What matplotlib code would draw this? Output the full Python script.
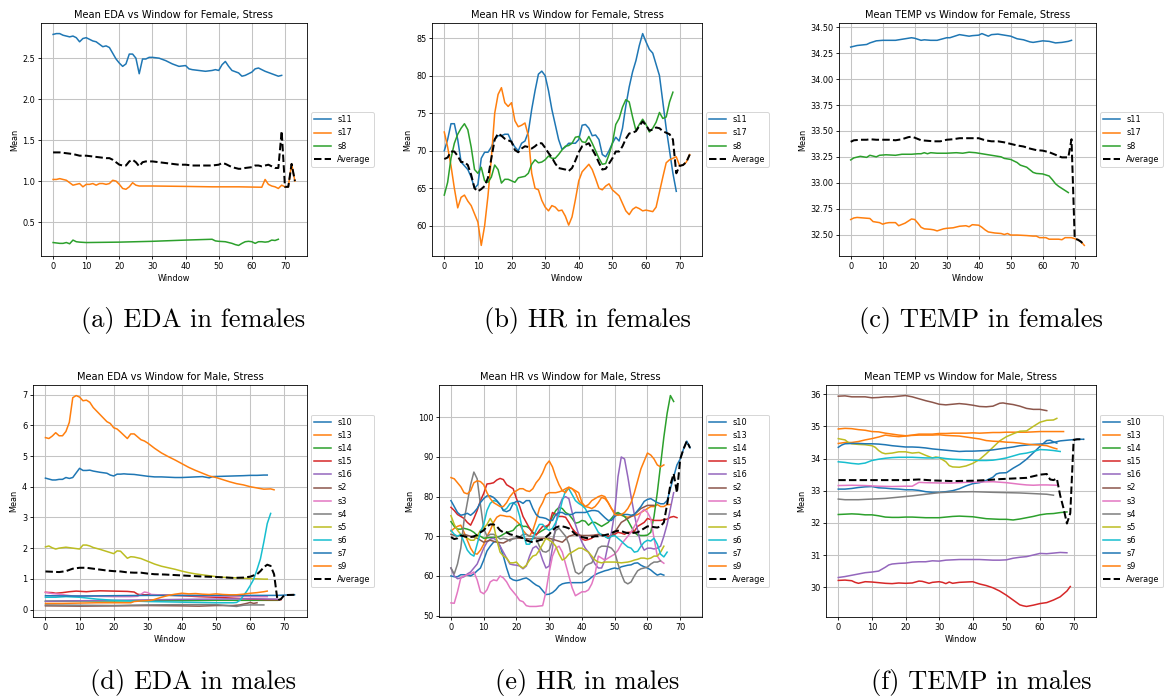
import numpy as np
import matplotlib
matplotlib.use("Agg")
import matplotlib.pyplot as plt

# ---------------------------------------------------------------- data
WINDOW_TICKS = [0, 10, 20, 30, 40, 50, 60, 70]

FEMALE_NAMES = ["s11", "s17", "s8"]
MALE_NAMES = ["s10", "s13", "s14", "s15", "s16", "s2", "s3", "s4", "s5", "s6", "s7", "s9"]

# Female, EDA  (pairs are (window, mean))
F_EDA_S11 = [(0, 2.79), (1, 2.80), (2, 2.80), (3, 2.78), (4, 2.77), (5, 2.76), (6, 2.77), (7, 2.75),
             (8, 2.70), (9, 2.74), (10, 2.75), (11, 2.73), (12, 2.71), (13, 2.70), (14, 2.67), (15, 2.64),
             (16, 2.65), (17, 2.63), (18, 2.56), (19, 2.49), (20, 2.44), (21, 2.40), (22, 2.43), (23, 2.55),
             (24, 2.55), (25, 2.50), (26, 2.31), (27, 2.49), (28, 2.49), (29, 2.51), (30, 2.51), (32, 2.50),
             (34, 2.47), (36, 2.43), (38, 2.40), (40, 2.41), (41, 2.37), (42, 2.36), (44, 2.35), (46, 2.34),
             (48, 2.35), (49, 2.36), (50, 2.35), (51, 2.42), (52, 2.46), (53, 2.40), (54, 2.35), (56, 2.32),
             (57, 2.28), (58, 2.29), (60, 2.33), (61, 2.37), (62, 2.38), (64, 2.34), (66, 2.31), (68, 2.28),
             (69, 2.29)]
F_EDA_S17 = [(0, 1.02), (1, 1.02), (2, 1.03), (3, 1.02), (4, 1.01), (5, 0.98), (6, 0.95), (7, 0.96),
             (8, 0.97), (9, 0.93), (10, 0.96), (11, 0.96), (12, 0.97), (13, 0.95), (14, 0.97), (15, 0.97),
             (16, 0.96), (17, 0.97), (18, 1.01), (19, 1.00), (20, 0.96), (21, 0.91), (22, 0.90), (23, 0.93),
             (24, 0.98), (25, 0.95), (26, 0.94), (30, 0.94), (40, 0.935), (48, 0.93), (56, 0.93), (63, 0.925),
             (64, 1.02), (65, 0.96), (66, 0.94), (67, 0.93), (68, 0.91), (69, 0.95), (70, 0.93), (71, 0.93),
             (72, 1.21), (73, 1.00)]
F_EDA_S8 = [(0, 0.25), (1, 0.245), (2, 0.24), (3, 0.24), (4, 0.25), (5, 0.235), (6, 0.28), (7, 0.26),
            (8, 0.255), (10, 0.25), (20, 0.255), (30, 0.265), (40, 0.28), (48, 0.29), (49, 0.27), (50, 0.265),
            (52, 0.26), (54, 0.24), (55, 0.225), (56, 0.215), (57, 0.24), (58, 0.26), (59, 0.265), (60, 0.26),
            (61, 0.24), (62, 0.26), (63, 0.26), (64, 0.255), (65, 0.26), (66, 0.28), (67, 0.275), (68, 0.29)]
F_EDA_AVG = [(0, 1.35), (2, 1.35), (4, 1.34), (6, 1.33), (8, 1.31), (10, 1.31), (12, 1.30), (14, 1.29),
             (16, 1.28), (17, 1.28), (18, 1.26), (19, 1.23), (20, 1.20), (21, 1.19), (22, 1.19), (23, 1.24),
             (24, 1.26), (25, 1.23), (26, 1.18), (27, 1.23), (28, 1.24), (30, 1.24), (32, 1.23), (34, 1.22),
             (36, 1.21), (38, 1.20), (40, 1.20), (42, 1.19), (44, 1.19), (46, 1.19), (48, 1.19), (50, 1.20),
             (51, 1.22), (52, 1.21), (53, 1.19), (54, 1.17), (56, 1.15), (57, 1.15), (58, 1.16), (60, 1.17),
             (61, 1.19), (62, 1.19), (63, 1.18), (64, 1.19), (65, 1.20), (66, 1.18), (67, 1.16), (68, 1.16),
             (69, 1.61), (70, 0.93), (71, 0.93), (72, 1.21), (73, 1.00)]
F_EDA_YTICKS = [0.5, 1.0, 1.5, 2.0, 2.5]

# Female, HR  (one value per window, starting at window 0)
F_HR_S11 = [70.0, 71.5, 73.6, 73.6, 71.5, 68.5, 68.0, 67.5, 66.5, 65.0,
            65.5, 69.0, 69.8, 69.8, 70.5, 71.5, 72.0, 72.0, 72.2, 72.2,
            71.2, 70.5, 70.0, 71.0, 71.3, 72.5, 75.5, 78.0, 80.2, 80.6,
            80.0, 78.0, 75.5, 73.5, 71.5, 70.2, 70.5, 71.0, 71.0, 71.0,
            71.5, 73.4, 73.5, 73.0, 72.0, 72.1, 71.5, 69.5, 69.2, 70.0,
            71.0, 71.8, 71.3, 73.0, 76.0, 78.5, 80.5, 82.0, 84.0, 85.6,
            84.5, 83.5, 83.0, 81.5, 80.0, 76.5, 73.0, 70.0, 67.0, 64.6]
F_HR_S17 = [72.5, 70.5, 68.0, 65.0, 62.4, 63.8, 64.1, 63.3, 62.7, 61.6,
            60.5, 57.4, 60.0, 64.0, 69.0, 75.0, 77.5, 78.4, 76.4, 75.9,
            76.4, 74.0, 73.2, 73.4, 73.7, 72.0, 67.0, 65.0, 64.8, 63.4,
            62.5, 62.0, 62.7, 62.5, 62.0, 62.1, 61.3, 60.1, 61.2, 63.5,
            66.0, 67.2, 67.7, 68.2, 67.5, 66.3, 65.0, 64.8, 65.3, 65.6,
            64.8, 64.4, 64.0, 63.0, 62.0, 61.5, 62.2, 62.5, 62.3, 62.0,
            62.1, 62.0, 61.9, 62.5, 64.5, 66.5, 68.4, 68.8, 69.0, 69.2,
            68.0, 68.1, 68.5, 69.5]
F_HR_S8 = [64.1, 65.8, 69.0, 71.0, 72.2, 73.0, 73.6, 72.8, 70.5, 67.5,
           67.0, 67.8, 66.0, 65.8, 66.5, 68.1, 67.5, 65.7, 66.2, 66.2,
           66.0, 65.8, 66.4, 66.5, 66.6, 67.0, 68.2, 68.8, 68.4, 68.5,
           68.8, 69.3, 69.0, 69.0, 69.5, 70.1, 70.6, 70.7, 71.0, 71.8,
           71.9, 71.2, 71.1, 71.9, 71.0, 70.0, 69.0, 68.2, 68.3, 69.5,
           71.0, 73.5, 74.3, 75.8, 76.8, 76.5, 74.5, 72.7, 73.5, 74.2,
           73.5, 72.5, 73.0, 73.8, 75.1, 74.3, 74.5, 76.5, 77.8]
F_HR_AVG = [68.9, 69.1, 69.9, 69.9, 69.3, 68.5, 68.5, 68.1, 66.8, 65.0,
            64.6, 64.9, 65.3, 66.4, 69.0, 71.5, 72.3, 72.0, 71.6, 71.4,
            71.2, 70.1, 69.8, 70.3, 70.6, 70.5, 70.3, 70.6, 71.0, 71.0,
            70.4, 69.7, 69.1, 68.3, 67.7, 67.6, 67.5, 67.3, 67.7, 68.7,
            69.8, 70.6, 70.8, 71.0, 70.2, 69.4, 68.4, 67.5, 67.6, 68.3,
            69.0, 69.9, 69.9, 70.6, 71.6, 72.3, 72.4, 72.6, 73.3, 73.9,
            73.4, 72.7, 72.8, 73.1, 73.0, 72.6, 72.4, 72.2, 71.5, 67.0,
            68.0, 68.1, 68.5, 69.5]
F_HR_YTICKS = [60, 65, 70, 75, 80, 85]

# Female, TEMP
F_TEMP_S11 = [(0, 34.31), (2, 34.325), (5, 34.335), (6, 34.35), (8, 34.37), (10, 34.375), (14, 34.375),
              (17, 34.39), (19, 34.40), (20, 34.395), (22, 34.375), (23, 34.38), (25, 34.375), (27, 34.375),
              (30, 34.40), (31, 34.40), (33, 34.42), (34, 34.43), (37, 34.415), (38, 34.42), (40, 34.425),
              (41, 34.44), (43, 34.415), (44, 34.43), (46, 34.435), (48, 34.425), (50, 34.415), (52, 34.39),
              (54, 34.38), (56, 34.36), (57, 34.355), (60, 34.37), (62, 34.365), (64, 34.35), (66, 34.355),
              (67, 34.36), (68, 34.365), (69, 34.375)]
F_TEMP_S17 = [(0, 32.645), (1, 32.66), (2, 32.665), (4, 32.66), (6, 32.655), (7, 32.625), (9, 32.615),
              (10, 32.60), (11, 32.61), (12, 32.615), (14, 32.615), (15, 32.585), (17, 32.61), (19, 32.65),
              (20, 32.645), (21, 32.61), (22, 32.57), (23, 32.555), (25, 32.55), (26, 32.545), (27, 32.535),
              (29, 32.555), (30, 32.56), (32, 32.565), (34, 32.58), (36, 32.585), (37, 32.575), (38, 32.595),
              (40, 32.59), (41, 32.57), (42, 32.545), (43, 32.525), (45, 32.515), (47, 32.51), (48, 32.50),
              (49, 32.51), (50, 32.495), (52, 32.495), (55, 32.49), (57, 32.485), (58, 32.485), (59, 32.47),
              (61, 32.47), (62, 32.455), (65, 32.455), (66, 32.45), (67, 32.47), (69, 32.47), (70, 32.46),
              (71, 32.45), (72, 32.43), (73, 32.395)]
F_TEMP_S8 = [(0, 33.22), (1, 33.24), (3, 33.255), (5, 33.245), (6, 33.265), (8, 33.25), (9, 33.265),
             (11, 33.27), (14, 33.265), (16, 33.275), (19, 33.275), (21, 33.28), (22, 33.28), (23, 33.29),
             (24, 33.28), (25, 33.29), (27, 33.285), (30, 33.285), (33, 33.29), (35, 33.285), (37, 33.295),
             (39, 33.29), (41, 33.28), (43, 33.27), (45, 33.26), (47, 33.25), (48, 33.235), (50, 33.225),
             (52, 33.195), (53, 33.17), (55, 33.15), (57, 33.10), (58, 33.09), (60, 33.085), (61, 33.075),
             (62, 33.065), (63, 33.03), (64, 32.99), (65, 32.965), (66, 32.945), (67, 32.925), (68, 32.905)]
F_TEMP_AVG = [(0, 33.395), (1, 33.41), (3, 33.415), (5, 33.415), (6, 33.42), (8, 33.415), (10, 33.415),
              (12, 33.415), (14, 33.41), (16, 33.42), (18, 33.44), (19, 33.445), (20, 33.435), (22, 33.41),
              (24, 33.405), (26, 33.40), (28, 33.40), (30, 33.415), (32, 33.42), (34, 33.43), (36, 33.43),
              (38, 33.43), (40, 33.43), (42, 33.41), (44, 33.40), (46, 33.40), (48, 33.39), (50, 33.375),
              (52, 33.36), (54, 33.35), (56, 33.33), (58, 33.315), (60, 33.31), (62, 33.295), (64, 33.27),
              (65, 33.255), (66, 33.245), (68, 33.245), (69, 33.42), (70, 32.46), (71, 32.45), (72, 32.43),
              (73, 32.395)]
F_TEMP_YTICKS = [32.5, 32.75, 33.0, 33.25, 33.5, 33.75, 34.0, 34.25, 34.5]

# Male, EDA
M_EDA_S10 = [(0, 4.28), (1, 4.25), (2, 4.22), (3, 4.22), (4, 4.24), (5, 4.24), (6, 4.30), (7, 4.27),
             (8, 4.30), (9, 4.45), (10, 4.60), (11, 4.53), (12, 4.53), (13, 4.54), (14, 4.51), (16, 4.47),
             (18, 4.44), (19, 4.38), (20, 4.35), (21, 4.41), (22, 4.41), (23, 4.42), (24, 4.41), (26, 4.40),
             (28, 4.37), (30, 4.34), (32, 4.32), (34, 4.32), (36, 4.31), (38, 4.30), (40, 4.30), (42, 4.31),
             (44, 4.32), (46, 4.33), (47, 4.31), (48, 4.29), (49, 4.33), (52, 4.34), (55, 4.35), (58, 4.36),
             (60, 4.37), (62, 4.37), (64, 4.38), (65, 4.38)]
M_EDA_S13 = [(0, 5.60), (1, 5.57), (2, 5.65), (3, 5.76), (4, 5.66), (5, 5.66), (6, 5.80), (7, 6.10),
             (8, 6.90), (9, 6.97), (10, 6.92), (11, 6.80), (12, 6.82), (13, 6.75), (14, 6.58), (16, 6.35),
             (18, 6.12), (19, 6.06), (20, 5.92), (21, 5.88), (22, 5.78), (24, 5.57), (25, 5.72), (26, 5.72),
             (28, 5.53), (29, 5.49), (30, 5.42), (32, 5.25), (34, 5.10), (36, 4.98), (38, 4.87), (40, 4.75),
             (42, 4.63), (44, 4.53), (46, 4.44), (48, 4.35), (50, 4.30), (52, 4.23), (54, 4.16), (56, 4.10),
             (58, 4.06), (60, 4.00), (62, 3.96), (64, 3.92), (66, 3.93), (67, 3.90)]
M_EDA_S14 = [(0, 0.27), (10, 0.28), (20, 0.28), (30, 0.29), (40, 0.29), (50, 0.30), (60, 0.30), (68, 0.30)]
M_EDA_S15 = [(0, 0.56), (2, 0.55), (3, 0.53), (5, 0.55), (7, 0.58), (9, 0.60), (12, 0.58), (14, 0.60),
             (16, 0.61), (20, 0.60), (24, 0.59), (26, 0.57), (27, 0.50), (28, 0.48), (30, 0.48), (35, 0.47),
             (40, 0.45), (45, 0.42), (50, 0.40), (55, 0.37), (60, 0.34), (65, 0.32), (69, 0.32)]
M_EDA_S16 = [(0, 0.27), (20, 0.30), (40, 0.33), (60, 0.35), (68, 0.34)]
M_EDA_S2 = [(0, 0.12), (10, 0.11), (20, 0.12), (30, 0.13), (40, 0.12), (45, 0.11), (50, 0.13), (55, 0.13),
            (57, 0.15), (59, 0.20), (60, 0.23), (61, 0.20), (62, 0.22)]
M_EDA_S3 = [(0, 0.56), (2, 0.52), (4, 0.50), (6, 0.47), (8, 0.44), (10, 0.44), (15, 0.43), (20, 0.42),
            (25, 0.42), (27, 0.43), (28, 0.50), (29, 0.57), (30, 0.55), (31, 0.49), (35, 0.47), (40, 0.46),
            (45, 0.45), (50, 0.44), (55, 0.43), (60, 0.42), (65, 0.42)]
M_EDA_S4 = [(0, 0.15), (10, 0.14), (20, 0.13), (30, 0.15), (40, 0.16), (50, 0.16), (56, 0.10), (58, 0.14),
            (60, 0.15), (64, 0.15)]
M_EDA_S5 = [(0, 2.04), (1, 2.07), (2, 2.01), (3, 1.97), (4, 2.00), (6, 2.03), (8, 2.00), (10, 1.97),
            (11, 2.10), (12, 2.10), (13, 2.07), (14, 2.02), (16, 1.96), (18, 1.89), (20, 1.82), (21, 1.91),
            (22, 1.90), (24, 1.67), (25, 1.72), (26, 1.71), (28, 1.66), (30, 1.57), (32, 1.48), (34, 1.41),
            (36, 1.36), (38, 1.31), (40, 1.25), (42, 1.20), (44, 1.16), (46, 1.13), (48, 1.10), (50, 1.07),
            (52, 1.05), (54, 1.04), (56, 1.03), (58, 1.02), (60, 1.01), (62, 1.00), (64, 0.99), (65, 0.99)]
M_EDA_S6 = [(0, 0.40), (3, 0.40), (6, 0.42), (10, 0.40), (15, 0.34), (20, 0.30), (25, 0.28), (30, 0.26),
            (35, 0.25), (40, 0.24), (45, 0.23), (50, 0.22), (55, 0.22), (56, 0.23), (57, 0.30), (58, 0.45),
            (59, 0.60), (60, 0.78), (61, 0.98), (62, 1.30), (63, 1.65), (64, 2.20), (65, 2.80), (66, 3.13)]
M_EDA_S7 = [(0, 0.45), (10, 0.44), (20, 0.45), (30, 0.46), (40, 0.46), (50, 0.46), (60, 0.46), (65, 0.46),
            (68, 0.46), (70, 0.47), (73, 0.48)]
M_EDA_S9 = [(0, 0.20), (5, 0.20), (10, 0.21), (15, 0.22), (20, 0.22), (25, 0.22), (26, 0.26), (28, 0.28),
            (30, 0.29), (31, 0.30), (32, 0.33), (34, 0.40), (36, 0.46), (38, 0.50), (40, 0.53), (42, 0.51),
            (44, 0.52), (46, 0.50), (48, 0.49), (50, 0.51), (52, 0.49), (54, 0.48), (56, 0.48), (58, 0.50),
            (60, 0.53), (62, 0.55), (64, 0.58), (65, 0.60)]
M_EDA_AVG = [(0, 1.24), (2, 1.23), (4, 1.22), (6, 1.25), (8, 1.33), (10, 1.36), (12, 1.36), (14, 1.33),
             (16, 1.30), (18, 1.27), (20, 1.25), (22, 1.24), (24, 1.21), (26, 1.20), (28, 1.20), (30, 1.17),
             (32, 1.15), (35, 1.14), (40, 1.11), (45, 1.08), (50, 1.06), (55, 1.03), (58, 1.04), (60, 1.07),
             (62, 1.15), (63, 1.25), (64, 1.38), (65, 1.46), (66, 1.42), (67, 1.15), (68, 0.30), (69, 0.34),
             (70, 0.47), (73, 0.48)]
M_EDA_YTICKS = [0, 1, 2, 3, 4, 5, 6, 7]

# Male, HR  (one value per window, starting at window 0)
M_HR_S10 = [60.0, 59.8, 59.8, 60.3, 60.3, 60.2, 60.0, 60.5, 61.3, 62.0,
            64.0, 66.3, 67.5, 68.5, 68.8, 67.5, 65.0, 62.0, 59.5, 59.0,
            58.8, 59.0, 59.3, 59.5, 59.0, 58.3, 57.7, 57.3, 56.3, 55.3,
            55.4, 55.8, 56.5, 57.5, 58.0, 58.2, 58.3, 58.3, 58.3, 58.3,
            58.3, 58.5, 59.0, 59.7, 60.3, 60.7, 61.0, 61.3, 61.5, 61.8,
            62.0, 61.8, 62.3, 62.5, 62.7, 62.8, 63.2, 63.3, 62.7, 62.3,
            62.0, 61.5, 60.8, 60.2, 60.5, 60.2]
M_HR_S13 = [71.3, 72.0, 72.5, 72.8, 71.0, 69.0, 67.0, 65.7, 65.5, 66.5,
            68.0, 70.0, 71.5, 73.5, 74.8, 75.3, 75.2, 75.0, 75.0, 74.5,
            73.8, 73.0, 71.5, 70.5, 70.0, 71.5, 74.0, 77.0, 78.5, 80.5,
            81.0, 81.0, 81.0, 81.2, 81.5, 82.0, 82.4, 82.0, 81.0, 79.0,
            78.0, 77.5, 77.3, 77.0, 77.5, 78.5, 79.8, 79.5, 78.5, 77.0,
            76.0, 75.7, 75.3, 75.0, 74.8, 75.0, 75.2, 75.5, 76.0, 76.5,
            77.0, 77.5, 77.5, 78.0, 77.5, 77.5, 78.0, 78.0]
M_HR_S14 = [73.7, 72.5, 71.8, 71.8, 72.0, 71.8, 71.5, 71.0, 70.2, 70.0,
            69.5, 69.6, 69.7, 69.7, 69.8, 70.0, 70.5, 71.0, 71.2, 71.5,
            72.5, 73.0, 72.5, 72.5, 72.0, 71.0, 70.5, 71.0, 71.5, 72.0,
            73.0, 75.0, 76.5, 77.3, 77.0, 76.0, 75.5, 74.5, 73.3, 73.5,
            74.0, 73.8, 72.8, 73.5, 73.5, 73.0, 72.5, 73.0, 73.5, 74.5,
            75.5, 76.0, 75.5, 75.0, 74.0, 72.5, 71.0, 70.3, 70.2, 70.2,
            70.3, 71.0, 75.0, 81.0, 88.0, 95.0, 101.0, 105.5, 104.0]
M_HR_S15 = [77.3, 76.5, 75.5, 75.0, 74.5, 73.5, 72.8, 74.5, 76.5, 79.0,
            80.8, 83.2, 83.3, 83.5, 84.2, 84.6, 84.3, 83.0, 82.5, 82.0,
            79.5, 77.5, 75.0, 73.5, 72.0, 70.8, 70.3, 71.5, 72.5, 72.5,
            73.0, 76.0, 75.5, 75.0, 75.0, 74.8, 73.5, 72.0, 71.0, 70.5,
            69.3, 69.0, 69.2, 69.5, 70.3, 70.5, 70.2, 70.0, 70.0, 70.2,
            70.5, 71.0, 70.8, 70.5, 71.0, 71.0, 71.3, 72.5, 73.0, 73.5,
            74.5, 74.2, 74.0, 74.0, 74.0, 74.2, 74.3, 74.8, 75.0, 74.7]
M_HR_S16 = [62.0, 60.0, 59.3, 59.5, 59.8, 60.5, 61.0, 62.0, 63.0, 65.0,
            67.0, 68.5, 69.3, 69.5, 69.0, 67.5, 66.0, 64.5, 63.0, 62.8,
            62.7, 62.5, 61.8, 62.5, 65.0, 67.0, 67.5, 66.5, 64.0, 62.0,
            62.5, 67.0, 73.0, 77.5, 79.5, 80.0, 79.5, 76.0, 73.0, 70.5,
            68.5, 67.0, 66.0, 64.5, 63.0, 62.0, 62.0, 64.0, 68.0, 71.0,
            76.0, 85.0, 90.0, 89.5, 85.0, 80.0, 75.5, 71.5, 68.0, 66.5,
            67.0, 67.0, 66.8, 67.0, 67.5, 70.0, 73.0, 77.0, 81.0]
M_HR_S2 = [(0, 70.5), (2, 70.0), (4, 70.5), (6, 70.0), (8, 69.5), (10, 68.5), (12, 69.0), (14, 68.5),
           (16, 68.3), (18, 69.2), (20, 69.5), (22, 69.5), (24, 69.3), (26, 69.5), (28, 69.5), (30, 69.5),
           (32, 69.0), (34, 68.5), (36, 70.0), (38, 70.5), (40, 70.2), (42, 70.2), (44, 70.3), (46, 70.5),
           (48, 69.5), (49, 70.0), (50, 71.0), (52, 73.5), (54, 74.5), (56, 75.5), (58, 77.0), (60, 77.8),
           (62, 77.8)]
M_HR_S3 = [53.2, 53.1, 56.0, 59.5, 60.0, 60.3, 60.5, 61.0, 59.0, 56.0,
           55.5, 56.5, 58.5, 59.0, 58.8, 60.0, 59.5, 58.5, 57.0, 56.0,
           55.0, 53.8, 53.5, 52.5, 52.3, 52.3, 52.3, 52.4, 52.5, 56.0,
           61.0, 65.0, 67.0, 67.5, 66.0, 63.0, 60.0, 57.0, 55.0, 55.5,
           56.0, 56.0, 56.5, 58.0, 60.5, 65.0, 64.5, 64.0, 64.5, 65.0,
           65.5, 66.5, 68.0, 69.0, 70.0, 71.0, 72.5, 74.0, 76.0, 76.8,
           76.0, 74.5, 69.5, 65.0, 63.8, 63.2]
M_HR_S4 = [62.0, 60.5, 63.0, 67.0, 74.0, 78.5, 83.0, 86.2, 84.5, 78.0,
           72.0, 70.0, 70.5, 70.5, 70.0, 69.3, 69.5, 69.3, 68.8, 69.5,
           69.5, 69.8, 70.5, 70.5, 70.0, 70.0, 69.5, 67.5, 66.2, 66.0,
           66.5, 69.0, 71.5, 72.0, 71.0, 70.0, 68.0, 64.0, 61.0, 60.5,
           61.0, 62.5, 63.0, 63.3, 65.0, 67.0, 67.5, 67.5, 67.4, 67.0,
           66.0, 63.0, 60.5, 58.5, 58.0, 58.5, 60.0, 61.3, 61.8, 62.0,
           62.2, 63.0, 63.5, 63.5, 63.8]
M_HR_S5 = [75.2, 73.0, 71.5, 70.5, 70.0, 69.5, 69.0, 69.0, 70.0, 71.5,
           72.0, 73.0, 74.5, 73.0, 69.0, 66.0, 65.0, 64.5, 63.3, 63.3,
           63.5, 62.5, 62.0, 62.7, 64.0, 65.0, 65.3, 66.5, 68.0, 69.5,
           69.0, 68.5, 67.5, 65.5, 64.0, 64.5, 65.5, 66.0, 66.5, 67.0,
           67.0, 66.5, 66.0, 65.0, 64.0, 63.5, 63.3, 63.5, 63.5, 63.5,
           63.5, 63.4, 63.3, 63.4, 63.5, 63.7, 64.0, 64.2, 64.5, 64.5,
           64.3, 64.5, 65.0, 65.0, 66.0, 67.5]
M_HR_S6 = [71.5, 70.5, 70.0, 70.5, 68.5, 66.5, 65.5, 65.0, 68.0, 71.0,
           73.0, 76.5, 78.3, 79.0, 78.8, 78.0, 76.5, 77.0, 78.2, 78.5,
           77.8, 75.0, 71.0, 68.0, 68.0, 69.5, 71.5, 73.0, 73.0, 72.0,
           71.5, 72.0, 73.5, 75.5, 79.0, 81.5, 82.0, 80.5, 79.0, 78.3,
           77.8, 77.0, 75.5, 74.0, 72.5, 71.0, 70.3, 70.0, 69.5, 70.0,
           70.2, 69.5, 68.8, 68.0, 67.3, 67.0, 66.0, 66.2, 67.5, 68.5,
           69.0, 68.8, 69.5, 68.0, 65.5, 64.8, 66.0]
M_HR_S7 = [79.0, 77.5, 76.0, 75.3, 75.5, 75.8, 75.3, 76.0, 77.0, 78.5,
           79.5, 80.2, 80.2, 79.8, 79.0, 78.0, 76.5, 76.2, 76.6, 78.3,
           78.8, 78.8, 78.3, 79.0, 79.0, 77.0, 75.5, 74.8, 74.7, 74.5,
           74.0, 74.0, 75.5, 76.0, 76.0, 75.5, 75.5, 75.5, 76.0, 76.0,
           76.0, 76.0, 76.3, 76.5, 76.5, 76.3, 75.5, 74.7, 74.0, 74.0,
           75.0, 75.5, 75.5, 75.5, 75.5, 75.3, 75.5, 76.5, 77.5, 78.8,
           79.3, 79.5, 79.0, 78.5, 78.2, 78.2, 79.0, 82.0, 85.0, 88.0,
           89.5, 92.0, 94.0, 92.3]
M_HR_S9 = [84.8, 84.5, 83.5, 82.5, 81.0, 80.7, 81.5, 83.5, 84.0, 83.8,
           83.0, 81.0, 79.5, 78.5, 78.0, 77.5, 77.5, 78.5, 80.0, 81.0,
           81.5, 82.0, 82.0, 81.5, 81.3, 82.0, 83.5, 84.5, 86.0, 88.0,
           89.0, 87.5, 85.0, 83.0, 81.5, 81.0, 82.3, 82.0, 81.5, 81.0,
           78.5, 77.5, 78.0, 79.0, 79.5, 80.0, 80.3, 80.0, 78.5, 77.0,
           75.5, 75.3, 75.5, 76.0, 77.0, 78.5, 81.0, 84.0, 87.0, 89.0,
           91.0, 90.5, 89.5, 88.0, 87.5, 88.0]
M_HR_AVG = [69.8, 69.3, 69.5, 70.2, 70.0, 69.8, 69.8, 70.0, 70.3, 71.0,
            71.5, 72.5, 73.0, 73.0, 72.5, 71.5, 71.0, 71.0, 70.5, 70.3,
            70.0, 69.8, 69.5, 69.0, 68.7, 68.5, 68.7, 69.0, 69.2, 69.8,
            70.5, 71.5, 72.2, 72.5, 72.5, 72.3, 72.0, 71.3, 70.5, 70.0,
            69.8, 69.6, 69.5, 69.8, 70.0, 70.0, 70.2, 70.3, 70.5, 70.8,
            71.2, 71.4, 71.3, 71.0, 70.8, 70.8, 70.9, 71.0, 71.5, 72.0,
            72.5, 72.5, 72.3, 72.2, 72.5, 73.5, 78.0, 83.0, 85.8, 81.0,
            89.5, 92.0, 94.0, 92.3]
M_HR_YTICKS = [50, 60, 70, 80, 90, 100]

# Male, TEMP
M_TEMP_S10 = [(0, 33.05), (2, 33.05), (4, 33.07), (6, 33.10), (8, 33.12), (10, 33.13), (12, 33.09),
              (14, 33.08), (16, 33.06), (18, 33.05), (20, 33.03), (22, 33.03), (24, 33.01), (26, 32.97),
              (28, 32.95), (30, 32.95), (32, 32.97), (34, 33.00), (36, 33.06), (38, 33.15), (40, 33.22),
              (42, 33.25), (44, 33.32), (46, 33.42), (47, 33.52), (48, 33.55), (50, 33.56), (52, 33.70),
              (54, 33.82), (56, 33.98), (58, 34.18), (60, 34.38), (62, 34.56), (63, 34.57), (64, 34.52),
              (65, 34.48)]
M_TEMP_S13 = [(0, 34.47), (2, 34.50), (4, 34.50), (6, 34.53), (8, 34.58), (10, 34.62), (12, 34.67),
              (14, 34.73), (16, 34.70), (18, 34.68), (20, 34.70), (22, 34.73), (24, 34.76), (26, 34.76),
              (28, 34.76), (30, 34.78), (32, 34.78), (34, 34.79), (36, 34.79), (38, 34.79), (40, 34.80),
              (42, 34.79), (44, 34.80), (46, 34.81), (48, 34.81), (50, 34.82), (52, 34.82), (54, 34.82),
              (56, 34.82), (58, 34.83), (60, 34.84), (62, 34.84), (64, 34.84), (66, 34.84), (67, 34.84)]
M_TEMP_S14 = [(0, 32.26), (2, 32.27), (4, 32.28), (6, 32.27), (8, 32.25), (10, 32.25), (12, 32.22),
              (14, 32.18), (16, 32.17), (18, 32.17), (20, 32.18), (22, 32.18), (24, 32.17), (26, 32.16),
              (28, 32.16), (30, 32.16), (32, 32.18), (34, 32.20), (36, 32.21), (38, 32.20), (40, 32.19),
              (42, 32.16), (44, 32.13), (46, 32.12), (48, 32.11), (50, 32.11), (52, 32.09), (54, 32.12),
              (56, 32.16), (58, 32.20), (60, 32.25), (62, 32.28), (64, 32.29), (66, 32.32), (68, 32.34)]
M_TEMP_S15 = [(0, 30.21), (2, 30.22), (4, 30.20), (5, 30.15), (6, 30.12), (8, 30.17), (10, 30.16),
              (12, 30.14), (14, 30.12), (16, 30.11), (18, 30.13), (20, 30.12), (22, 30.13), (24, 30.19),
              (25, 30.18), (26, 30.15), (27, 30.12), (28, 30.15), (30, 30.17), (31, 30.15), (32, 30.11),
              (33, 30.16), (34, 30.12), (36, 30.15), (38, 30.16), (40, 30.17), (42, 30.10), (44, 30.05),
              (46, 29.98), (48, 29.88), (50, 29.75), (52, 29.60), (54, 29.45), (55, 29.42), (56, 29.40),
              (58, 29.44), (60, 29.49), (62, 29.52), (64, 29.60), (66, 29.70), (68, 29.88), (69, 30.02)]
M_TEMP_S16 = [(0, 30.30), (2, 30.33), (4, 30.37), (6, 30.41), (8, 30.45), (10, 30.47), (12, 30.50),
              (13, 30.56), (14, 30.62), (15, 30.69), (16, 30.72), (18, 30.74), (20, 30.75), (22, 30.78),
              (24, 30.79), (26, 30.79), (28, 30.82), (30, 30.81), (32, 30.84), (34, 30.85), (36, 30.86),
              (38, 30.86), (40, 30.86), (42, 30.86), (44, 30.85), (46, 30.84), (48, 30.84), (50, 30.85),
              (52, 30.90), (54, 30.93), (56, 30.95), (58, 31.00), (60, 31.05), (62, 31.04), (64, 31.06),
              (66, 31.08), (68, 31.07)]
M_TEMP_S2 = [(0, 35.94), (2, 35.95), (4, 35.92), (6, 35.92), (8, 35.92), (10, 35.89), (12, 35.90),
             (14, 35.92), (16, 35.92), (18, 35.94), (20, 35.96), (22, 35.92), (24, 35.86), (26, 35.80),
             (28, 35.75), (30, 35.69), (32, 35.67), (34, 35.69), (36, 35.71), (38, 35.69), (40, 35.66),
             (42, 35.62), (44, 35.61), (46, 35.63), (48, 35.72), (49, 35.73), (50, 35.71), (52, 35.68),
             (54, 35.63), (56, 35.56), (58, 35.53), (60, 35.53), (62, 35.49)]
M_TEMP_S3 = [(0, 33.16), (4, 33.17), (8, 33.16), (12, 33.14), (16, 33.13), (20, 33.14), (22, 33.14),
             (24, 33.26), (26, 33.25), (30, 33.24), (34, 33.24), (38, 33.26), (42, 33.27), (46, 33.28),
             (50, 33.25), (54, 33.20), (56, 33.18), (58, 33.17), (60, 33.18), (62, 33.18), (65, 33.17)]
M_TEMP_S4 = [(0, 32.74), (2, 32.72), (6, 32.72), (10, 32.74), (14, 32.76), (18, 32.80), (22, 32.84),
             (26, 32.89), (30, 32.94), (34, 32.96), (40, 32.97), (46, 32.95), (50, 32.94), (54, 32.93),
             (58, 32.91), (62, 32.89), (64, 32.86)]
M_TEMP_S5 = [(0, 34.62), (2, 34.58), (3, 34.50), (4, 34.46), (6, 34.44), (8, 34.43), (10, 34.40),
             (11, 34.35), (12, 34.25), (13, 34.18), (14, 34.15), (16, 34.17), (18, 34.21), (20, 34.21),
             (22, 34.17), (24, 34.19), (26, 34.10), (28, 34.02), (29, 34.05), (30, 34.03), (32, 33.90),
             (33, 33.78), (34, 33.74), (36, 33.73), (38, 33.77), (40, 33.85), (42, 33.97), (44, 34.15),
             (46, 34.35), (48, 34.55), (50, 34.68), (52, 34.77), (54, 34.85), (56, 34.86), (58, 35.00),
             (60, 35.13), (62, 35.19), (64, 35.20), (65, 35.25)]
M_TEMP_S6 = [(0, 33.90), (2, 33.88), (4, 33.85), (6, 33.83), (8, 33.86), (10, 33.94), (12, 33.98),
             (14, 34.01), (16, 34.03), (18, 34.04), (20, 34.04), (22, 34.04), (24, 34.03), (26, 34.02),
             (28, 34.02), (30, 34.03), (32, 34.00), (34, 33.98), (36, 33.97), (38, 33.96), (40, 33.95),
             (42, 33.94), (44, 33.94), (46, 33.95), (48, 33.98), (50, 34.02), (52, 34.08), (54, 34.14),
             (56, 34.17), (58, 34.22), (60, 34.28), (62, 34.27), (64, 34.25), (66, 34.22)]
M_TEMP_S7 = [(0, 34.35), (1, 34.42), (2, 34.46), (4, 34.47), (6, 34.47), (8, 34.46), (10, 34.46),
             (12, 34.45), (14, 34.43), (16, 34.40), (18, 34.38), (20, 34.36), (22, 34.36), (24, 34.35),
             (26, 34.33), (28, 34.30), (30, 34.28), (32, 34.26), (34, 34.24), (36, 34.22), (38, 34.23),
             (40, 34.23), (42, 34.24), (44, 34.25), (46, 34.27), (48, 34.30), (50, 34.33), (52, 34.36),
             (54, 34.40), (56, 34.42), (58, 34.44), (60, 34.45), (62, 34.47), (64, 34.50), (66, 34.55),
             (68, 34.57), (70, 34.59), (72, 34.60), (73, 34.60)]
M_TEMP_S9 = [(0, 34.92), (2, 34.94), (4, 34.93), (6, 34.90), (8, 34.88), (10, 34.84), (12, 34.83),
             (14, 34.79), (16, 34.76), (18, 34.73), (20, 34.71), (22, 34.72), (24, 34.73), (26, 34.73),
             (28, 34.73), (30, 34.74), (32, 34.72), (34, 34.71), (36, 34.70), (38, 34.67), (40, 34.64),
             (42, 34.61), (44, 34.56), (46, 34.54), (48, 34.53), (50, 34.51), (52, 34.50), (54, 34.48),
             (56, 34.45), (58, 34.43), (60, 34.42), (62, 34.40), (64, 34.33), (65, 34.30)]
M_TEMP_AVG = [(0, 33.33), (10, 33.33), (20, 33.33), (24, 33.35), (28, 33.32), (34, 33.30), (40, 33.31),
              (44, 33.33), (48, 33.36), (52, 33.38), (56, 33.40), (58, 33.45), (60, 33.50), (62, 33.52),
              (63, 33.35), (64, 33.33), (65, 33.38), (66, 32.85), (67, 32.45), (68, 31.98), (69, 32.30),
              (70, 34.58), (71, 34.60), (72, 34.60), (73, 34.60)]
M_TEMP_YTICKS = [30, 31, 32, 33, 34, 35, 36]

CAPTIONS = ["(a) EDA in females", "(b) HR in females", "(c) TEMP in females",
            "(d) EDA in males", "(e) HR in males", "(f) TEMP in males"]

# ---------------------------------------------------------------- style
S = 0.59  # each panel is a scaled-down default matplotlib plot
plt.rcParams.update({
    "font.family": "DejaVu Sans",
    "font.size": 10 * S,
    "axes.titlesize": 12 * S,
    "axes.labelsize": 10 * S,
    "xtick.labelsize": 10 * S,
    "ytick.labelsize": 10 * S,
    "legend.fontsize": 10 * S,
    "lines.linewidth": 1.1,
    "axes.linewidth": 0.6,
    "grid.linewidth": 0.75,
    "grid.color": "#c4c4c4",
    "xtick.major.width": 0.6,
    "ytick.major.width": 0.6,
    "xtick.major.size": 3.5 * S,
    "ytick.major.size": 3.5 * S,
    "xtick.major.pad": 3.5 * S,
    "ytick.major.pad": 3.5 * S,
    "axes.labelpad": 4 * S,
    "axes.titlepad": 6 * S,
    "patch.linewidth": 0.7,
})

W, H = 1169, 699
fig = plt.figure(figsize=(W / 100, H / 100), dpi=100)


def box(left, right, top, bottom):
    return [left / W, 1 - bottom / H, (right - left) / W, (bottom - top) / H]


def xy(seq):
    if isinstance(seq[0], tuple):
        x, y = zip(*seq)
        return np.asarray(x), np.asarray(y)
    return np.arange(len(seq)), np.asarray(seq)


def panel(rect, title, names, series, avg, yticks):
    ax = fig.add_axes(box(*rect))
    for name, s in zip(names, series):
        x, y = xy(s)
        ax.plot(x, y, label=name)
    x, y = xy(avg)
    ax.plot(x, y, color="black", linestyle="--", linewidth=1.45, label="Average")
    ax.set_title(title)
    ax.set_xlabel("Window")
    ax.set_ylabel("Mean")
    ax.set_xticks(WINDOW_TICKS)
    ax.set_yticks(yticks)
    ax.grid(True)
    ax.legend(loc="center left", bbox_to_anchor=(1, 0.5))
    return ax


panel((41, 307, 23, 256), "Mean EDA vs Window for Female, Stress", FEMALE_NAMES,
      [F_EDA_S11, F_EDA_S17, F_EDA_S8], F_EDA_AVG, F_EDA_YTICKS)
panel((432, 702, 23, 256), "Mean HR vs Window for Female, Stress", FEMALE_NAMES,
      [F_HR_S11, F_HR_S17, F_HR_S8], F_HR_AVG, F_HR_YTICKS)
panel((839, 1096, 23, 256), "Mean TEMP vs Window for Female, Stress", FEMALE_NAMES,
      [F_TEMP_S11, F_TEMP_S17, F_TEMP_S8], F_TEMP_AVG, F_TEMP_YTICKS)

panel((33, 307, 385, 617), "Mean EDA vs Window for Male, Stress", MALE_NAMES,
      [M_EDA_S10, M_EDA_S13, M_EDA_S14, M_EDA_S15, M_EDA_S16, M_EDA_S2,
       M_EDA_S3, M_EDA_S4, M_EDA_S5, M_EDA_S6, M_EDA_S7, M_EDA_S9], M_EDA_AVG, M_EDA_YTICKS)
panel((439, 702, 385, 617), "Mean HR vs Window for Male, Stress", MALE_NAMES,
      [M_HR_S10, M_HR_S13, M_HR_S14, M_HR_S15, M_HR_S16, M_HR_S2,
       M_HR_S3, M_HR_S4, M_HR_S5, M_HR_S6, M_HR_S7, M_HR_S9], M_HR_AVG, M_HR_YTICKS)
panel((826, 1096, 385, 617), "Mean TEMP vs Window for Male, Stress", MALE_NAMES,
      [M_TEMP_S10, M_TEMP_S13, M_TEMP_S14, M_TEMP_S15, M_TEMP_S16, M_TEMP_S2,
       M_TEMP_S3, M_TEMP_S4, M_TEMP_S5, M_TEMP_S6, M_TEMP_S7, M_TEMP_S9], M_TEMP_AVG, M_TEMP_YTICKS)

# sub-figure captions
cap_x = [193, 587, 981]
cap_y = [320, 683]
for i, text in enumerate(CAPTIONS):
    fig.text(cap_x[i % 3] / W, 1 - cap_y[i // 3] / H, text, family="cmr10",
             fontsize=19, ha="center", va="center")

fig.savefig("out.png", dpi=100)
